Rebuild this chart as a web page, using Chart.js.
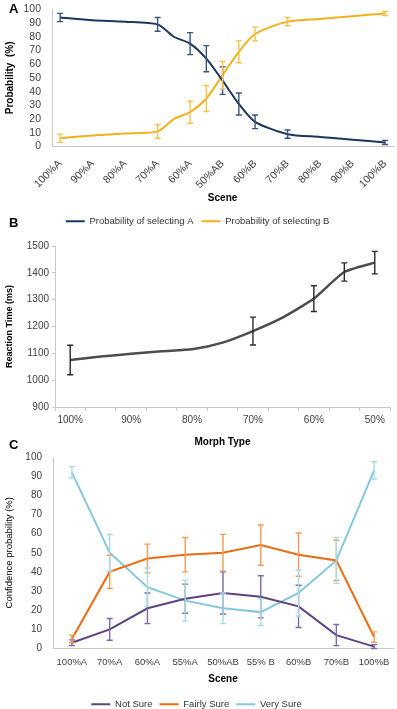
<!DOCTYPE html>
<html>
<head>
<meta charset="utf-8">
<script src="https://cdn.jsdelivr.net/npm/chart.js@4.4.0/dist/chart.umd.min.js"></script>
<style>
  body { margin: 0; background: #fff; width: 397px; height: 709px; position: relative; overflow: hidden; }
  canvas { position: absolute; left: 0; }
  .letter { position: absolute; font-family: "Liberation Sans", Arial, sans-serif; font-weight: bold; font-size: 13px; color: #000; }
</style>
</head>
<body>
<canvas id="chart-a" width="397" height="236" style="top:0"></canvas>
<canvas id="chart-b" width="397" height="220" style="top:230px"></canvas>
<canvas id="chart-c" width="397" height="271" style="top:448px"></canvas>
<div class="letter" style="left:9px;top:1px">A</div>
<div class="letter" style="left:9px;top:215px">B</div>
<div class="letter" style="left:9px;top:437px">C</div>
<script>
// Panel A: probability of choosing A / B along the morph continuum
var sceneLabelsA = ['100%A', '90%A', '80%A', '70%A', '60%A', '50%AB', '60%B', '70%B', '80%B', '90%B', '100%B'];
var scenePosA = [0, 1, 2, 3, 3.5, 4, 4.5, 5, 5.5, 6, 7, 8, 9, 10];
var probA = [94, 92, 91, 89, 80, 75, 64, 48, 31, 18, 9, 7, 5, 3];
var probAErr = [3, null, null, 5, null, 8, 9.5, 10, 8, 5, 3, null, null, 1.5];
var probB = [6, 8, 9.5, 11, 20, 25, 35, 52, 69, 82, 91, 93, 95, 97];
var probBErr = [3, null, null, 5, null, 8, 9.5, 10, 8, 5, 3, null, null, 1.5];

// Panel B: reaction time by morph type
var morphLabelsB = ['100%', '95%', '90%', '85%', '80%', '75%', '70%', '65%', '60%', '55%', '50%'];
var rtMs = [1075, 1088, 1098, 1108, 1115, 1140, 1183, 1235, 1304, 1403, 1438];
var rtErr = [55, null, null, null, null, null, 52, null, 48, 34, 42];

// Panel C: confidence ratings
var confLabels = ['100%A', '70%A', '60%A', '55%A', '50%AB', '55% B', '60%B', '70%B', '100%B'];
var notSure = [3, 10, 21, 26, 29, 27, 22, 7, 1];
var notSureErr = [1.5, 5.7, 8, 7.6, 11, 11, 11, 5.5, 1];
var fairlySure = [5, 40, 47, 49, 50, 54, 49, 46, 6];
var fairlySureErr = [2, 8.7, 7.5, 9, 9.6, 10.5, 11.3, 10.5, 2.7];
var verySure = [92, 50, 32, 25, 21, 19, 29, 46, 93];
var verySureErr = [3, 9.5, 10, 10.7, 8, 7, 12, 12, 4.5];

var FONT = '"Liberation Sans", Arial, sans-serif';
var AXIS_COLOR = '#c8c8c8';
var TICK_COLOR = '#404040';

// draws vertical error bars from each dataset's "errors" array
var errorBarPlugin = {
  id: 'errorBars',
  afterDatasetsDraw: function(chart) {
    var ctx = chart.ctx;
    var yScale = chart.scales.y;
    chart.data.datasets.forEach(function(ds, di) {
      if (!ds.errors) return;
      var meta = chart.getDatasetMeta(di);
      ctx.save();
      ctx.strokeStyle = ds.errorColor;
      ctx.lineWidth = 1.4;
      meta.data.forEach(function(pt, i) {
        var e = ds.errors[i];
        if (e == null) return;
        var raw = ds.data[i];
        var v = (raw && raw.y !== undefined) ? raw.y : raw;
        var top = yScale.getPixelForValue(v + e);
        var bot = yScale.getPixelForValue(v - e);
        ctx.beginPath();
        ctx.moveTo(pt.x, top); ctx.lineTo(pt.x, bot);
        ctx.moveTo(pt.x - 3, top); ctx.lineTo(pt.x + 3, top);
        ctx.moveTo(pt.x - 3, bot); ctx.lineTo(pt.x + 3, bot);
        ctx.stroke();
      });
      ctx.restore();
    });
  }
};

function xy(xs, ys) {
  return xs.map(function(x, i) { return { x: x, y: ys[i] }; });
}

function legendOpts(padding) {
  return {
    display: true,
    position: 'bottom',
    labels: {
      usePointStyle: true,
      pointStyle: 'line',
      pointStyleWidth: 19,
      boxHeight: 6,
      padding: padding,
      color: '#333',
      font: { family: FONT, size: 9.5 }
    }
  };
}

function loadChartA() {
  new Chart(document.getElementById('chart-a'), {
    type: 'line',
    data: {
      datasets: [
        {
          label: 'Probability of selecting A',
          data: xy(scenePosA, probA),
          errors: probAErr,
          errorColor: '#3d5478',
          borderColor: '#1c3660',
          backgroundColor: '#1c3660',
          borderWidth: 2,
          pointRadius: 0,
          tension: 0.25
        },
        {
          label: 'Probability of selecting B',
          data: xy(scenePosA, probB),
          errors: probBErr,
          errorColor: '#f5c24e',
          borderColor: '#f2b01e',
          backgroundColor: '#f2b01e',
          borderWidth: 2,
          pointRadius: 0,
          tension: 0.25
        }
      ]
    },
    options: {
      responsive: false,
      animation: false,
      layout: { padding: { top: 0, right: 2, left: 0, bottom: 0 } },
      plugins: { legend: legendOpts(8), tooltip: { enabled: false } },
      scales: {
        x: {
          type: 'linear',
          min: -0.25,
          max: 10.25,
          afterBuildTicks: function(scale) {
            scale.ticks = sceneLabelsA.map(function(l, i) { return { value: i }; });
          },
          afterFit: function(scale) { scale.height = 62; },
          grid: { display: false },
          border: { color: AXIS_COLOR },
          ticks: {
            autoSkip: false,
            minRotation: 45,
            maxRotation: 45,
            color: TICK_COLOR,
            font: { family: FONT, size: 10.5 },
            callback: function(v) { return sceneLabelsA[v]; }
          },
          title: { display: true, text: 'Scene', color: '#000', padding: { top: 2, bottom: 4 }, font: { family: FONT, size: 10, weight: 'bold' } }
        },
        y: {
          min: 0,
          max: 100,
          afterFit: function(scale) { scale.width = 52; },
          grid: { display: false },
          border: { color: AXIS_COLOR },
          ticks: { stepSize: 10, autoSkip: false, color: TICK_COLOR, font: { family: FONT, size: 10.5 } },
          title: { display: true, text: 'Probability  (%)', color: '#000', font: { family: FONT, size: 10, weight: 'bold' } }
        }
      }
    },
    plugins: [errorBarPlugin]
  });
}

function loadChartB() {
  new Chart(document.getElementById('chart-b'), {
    type: 'line',
    data: {
      labels: morphLabelsB,
      datasets: [
        {
          label: 'Reaction Time',
          data: rtMs,
          errors: rtErr,
          errorColor: '#2b2b2b',
          borderColor: '#4d4d4d',
          borderWidth: 2.5,
          pointRadius: 0,
          tension: 0.2
        }
      ]
    },
    options: {
      responsive: false,
      animation: false,
      layout: { padding: { top: 16, right: 7, left: 0, bottom: 0 } },
      plugins: { legend: { display: false }, tooltip: { enabled: false } },
      scales: {
        x: {
          offset: true,
          afterFit: function(scale) { scale.height = 43; },
          grid: { display: true, drawOnChartArea: false, offset: true, tickLength: 4, color: AXIS_COLOR },
          border: { color: AXIS_COLOR },
          ticks: {
            autoSkip: false,
            maxRotation: 0,
            color: TICK_COLOR,
            font: { family: FONT, size: 10 },
            callback: function(v, i) { return i % 2 === 0 ? morphLabelsB[i] : ''; }
          },
          title: { display: true, text: 'Morph Type', color: '#000', padding: { top: 2, bottom: 2 }, font: { family: FONT, size: 10, weight: 'bold' } }
        },
        y: {
          min: 900,
          max: 1500,
          afterFit: function(scale) { scale.width = 55; },
          grid: { display: true, drawOnChartArea: false, tickLength: 3, color: AXIS_COLOR },
          border: { color: AXIS_COLOR },
          ticks: {
            stepSize: 100,
            autoSkip: false,
            color: TICK_COLOR,
            font: { family: FONT, size: 10 },
            callback: function(v) { return String(v); }
          },
          title: { display: true, text: 'Reaction Time (ms)', color: '#000', font: { family: FONT, size: 9, weight: 'bold' } }
        }
      }
    },
    plugins: [errorBarPlugin]
  });
}

function loadChartC() {
  new Chart(document.getElementById('chart-c'), {
    type: 'line',
    data: {
      labels: confLabels,
      datasets: [
        {
          label: 'Not Sure',
          data: notSure,
          errors: notSureErr,
          errorColor: '#7d69a3',
          borderColor: '#5c4482',
          backgroundColor: '#5c4482',
          borderWidth: 2,
          pointRadius: 0
        },
        {
          label: 'Fairly Sure',
          data: fairlySure,
          errors: fairlySureErr,
          errorColor: '#f39a58',
          borderColor: '#ec6c12',
          backgroundColor: '#ec6c12',
          borderWidth: 2,
          pointRadius: 0
        },
        {
          label: 'Very Sure',
          data: verySure,
          errors: verySureErr,
          errorColor: '#a8dbe8',
          borderColor: '#85c8dd',
          backgroundColor: '#85c8dd',
          borderWidth: 2,
          pointRadius: 0
        }
      ]
    },
    options: {
      responsive: false,
      animation: false,
      layout: { padding: { top: 3, right: 4, left: 0, bottom: 0 } },
      plugins: { legend: legendOpts(7), tooltip: { enabled: false } },
      scales: {
        x: {
          offset: true,
          afterFit: function(scale) { scale.height = 44; },
          grid: { display: false },
          border: { color: AXIS_COLOR },
          ticks: { autoSkip: false, maxRotation: 0, padding: 0, color: TICK_COLOR, font: { family: FONT, size: 9.5 } },
          title: { display: true, text: 'Scene', color: '#000', padding: { top: 2, bottom: 7 }, font: { family: FONT, size: 10, weight: 'bold' } }
        },
        y: {
          min: 0,
          max: 100,
          afterFit: function(scale) { scale.width = 53; },
          grid: { display: false },
          border: { color: AXIS_COLOR },
          ticks: { stepSize: 10, autoSkip: false, color: TICK_COLOR, font: { family: FONT, size: 10 } },
          title: { display: true, text: 'Confidence probability (%)', color: '#000', font: { family: FONT, size: 9.5 } }
        }
      }
    },
    plugins: [errorBarPlugin]
  });
}

window.addEventListener('load', function() {
  loadChartA();
  loadChartB();
  loadChartC();
});
</script>
</body>
</html>
